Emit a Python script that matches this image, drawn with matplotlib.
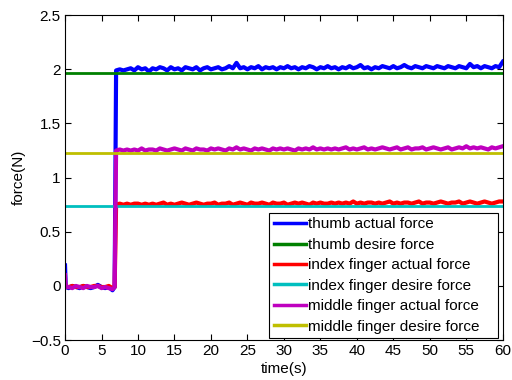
import numpy as np
import matplotlib
matplotlib.use("Agg")
import matplotlib.pyplot as plt

plt.rcParams['font.family'] = ['Liberation Sans', 'DejaVu Sans']
plt.rcParams['font.size'] = 11

# time base for the measured forces (before / after the step)
t_pre = [0, 0.1, 0.5, 1.0, 1.5, 2.0, 2.5, 3.0, 3.5, 4.0, 4.5, 5.0, 5.5, 6.0, 6.5, 6.8]
t_start, t_step, t_end = 7.0, 0.5, 60.0

thumb_pre = [0.19, -0.01, -0.02, 0.00, -0.01, -0.02, 0.00, -0.01, -0.02, -0.01,
             0.01, -0.01, -0.02, -0.01, -0.04, -0.01]
thumb_post = [1.99, 2.00, 1.99, 2.00, 2.01, 1.99, 2.02, 2.00, 2.01, 1.98,
              2.01, 2.00, 2.02, 2.01, 1.99, 2.02, 2.00, 2.01, 1.99, 2.02,
              2.01, 2.00, 2.02, 1.99, 2.01, 2.02, 2.00, 2.01, 2.02, 2.00,
              2.01, 2.03, 2.01, 2.06, 2.01, 2.02, 2.00, 2.02, 2.01, 2.03,
              2.00, 2.02, 2.01, 2.02, 2.00, 2.02, 2.01, 2.03, 2.01, 2.02,
              2.00, 2.02, 2.01, 2.03, 2.02, 2.00, 2.02, 2.01, 2.03, 2.01,
              2.02, 2.00, 2.02, 2.01, 2.03, 2.01, 2.02, 2.04, 2.01, 2.02,
              2.00, 2.02, 2.01, 2.03, 2.02, 2.01, 2.03, 2.01, 2.02, 2.04,
              2.02, 2.01, 2.03, 2.02, 2.01, 2.03, 2.02, 2.01, 2.03, 2.02,
              2.01, 2.03, 2.02, 2.01, 2.03, 2.02, 2.01, 2.05, 2.02, 2.03,
              2.01, 2.03, 2.02, 2.01, 2.03, 2.02, 2.07]

index_pre = [0.02, -0.01, -0.01, 0.00, -0.01, -0.01, 0.00, -0.01, -0.01, 0.00,
             0.00, -0.01, -0.01, 0.00, -0.02, -0.01]
index_post = [0.75, 0.76, 0.75, 0.76, 0.75, 0.76, 0.76, 0.75, 0.76, 0.75,
              0.76, 0.75, 0.76, 0.77, 0.75, 0.76, 0.75, 0.76, 0.77, 0.76,
              0.75, 0.76, 0.77, 0.76, 0.75, 0.76, 0.76, 0.77, 0.75, 0.76,
              0.76, 0.77, 0.75, 0.76, 0.77, 0.76, 0.75, 0.77, 0.76, 0.76,
              0.77, 0.76, 0.75, 0.77, 0.76, 0.76, 0.77, 0.75, 0.76, 0.77,
              0.76, 0.77, 0.76, 0.75, 0.77, 0.76, 0.77, 0.76, 0.76, 0.77,
              0.76, 0.77, 0.76, 0.77, 0.76, 0.78, 0.76, 0.77, 0.76, 0.77,
              0.77, 0.76, 0.77, 0.76, 0.77, 0.78, 0.76, 0.77, 0.76, 0.77,
              0.77, 0.76, 0.77, 0.78, 0.76, 0.77, 0.77, 0.76, 0.77, 0.78,
              0.77, 0.76, 0.77, 0.77, 0.78, 0.76, 0.77, 0.78, 0.77, 0.76,
              0.77, 0.78, 0.77, 0.76, 0.77, 0.78, 0.78]

middle_pre = [0.10, -0.01, -0.01, -0.02, 0.00, -0.01, -0.02, 0.00, -0.01, -0.01,
              0.00, -0.02, -0.01, -0.02, -0.03, -0.01]
middle_post = [1.25, 1.26, 1.25, 1.26, 1.25, 1.26, 1.25, 1.27, 1.25, 1.26,
               1.26, 1.25, 1.27, 1.26, 1.25, 1.26, 1.27, 1.26, 1.25, 1.27,
               1.26, 1.25, 1.27, 1.26, 1.26, 1.25, 1.27, 1.26, 1.27, 1.26,
               1.25, 1.27, 1.26, 1.28, 1.26, 1.27, 1.26, 1.25, 1.27, 1.26,
               1.27, 1.26, 1.25, 1.27, 1.26, 1.27, 1.26, 1.27, 1.26, 1.25,
               1.27, 1.26, 1.27, 1.26, 1.28, 1.26, 1.27, 1.26, 1.27, 1.26,
               1.27, 1.26, 1.27, 1.28, 1.26, 1.27, 1.26, 1.27, 1.28, 1.26,
               1.27, 1.26, 1.27, 1.28, 1.27, 1.26, 1.27, 1.28, 1.26, 1.27,
               1.28, 1.26, 1.27, 1.27, 1.28, 1.26, 1.27, 1.28, 1.27, 1.26,
               1.27, 1.28, 1.26, 1.27, 1.28, 1.27, 1.29, 1.27, 1.28, 1.27,
               1.28, 1.27, 1.26, 1.28, 1.27, 1.28, 1.29]

# set-point forces
thumb_desire = 1.97
index_desire = 0.74
middle_desire = 1.23

labels = ["thumb actual force", "thumb desire force",
          "index finger actual force", "index finger desire force",
          "middle finger actual force", "middle finger desire force"]

t_post = t_start + t_step * np.arange(len(thumb_post))
t_act = np.concatenate([t_pre, t_post])
t_des = [0, t_end]

fig = plt.figure(figsize=(5.12, 3.8), dpi=100)
ax = fig.add_axes([0.127, 0.105, 0.855, 0.855])

ax.plot(t_act, thumb_pre + thumb_post, color=(0, 0, 1), lw=3.0, label=labels[0])
ax.plot(t_des, [thumb_desire] * 2, color=(0, 0.5, 0), lw=2.0, label=labels[1])
ax.plot(t_act, index_pre + index_post, color=(1, 0, 0), lw=3.0, label=labels[2])
ax.plot(t_des, [index_desire] * 2, color=(0, 0.75, 0.75), lw=2.0, label=labels[3])
ax.plot(t_act, middle_pre + middle_post, color=(0.75, 0, 0.75), lw=3.0, label=labels[4])
ax.plot(t_des, [middle_desire] * 2, color=(0.75, 0.75, 0), lw=2.0, label=labels[5])

ax.set_xlim(0, 60)
ax.set_ylim(-0.5, 2.5)
ax.set_xticks(np.arange(0, 61, 5))
ax.set_yticks(np.arange(-0.5, 2.51, 0.5))
ax.set_yticklabels(["\u22120.5", "0", "0.5", "1", "1.5", "2", "2.5"])
ax.tick_params(direction='in', top=True, right=True, length=4, width=0.8, pad=3)
for s in ax.spines.values():
    s.set_linewidth(0.8)

ax.set_xlabel("time(s)", labelpad=3)
ax.set_ylabel("force(N)", labelpad=4)

# legend box stretched to a fixed width, items stay left-aligned
leg = ax.legend(loc='lower left', bbox_to_anchor=(0.466, 0.006, 0.523, 0.388),
                mode='expand', borderaxespad=0,
                fancybox=False, framealpha=1, edgecolor='black',
                handlelength=2.1, handletextpad=0.15, labelspacing=0.42,
                borderpad=0.3)
leg.get_frame().set_linewidth(0.8)
for h in leg.get_lines():
    h.set_linewidth(2.5)

fig.savefig("out.png", dpi=100)
